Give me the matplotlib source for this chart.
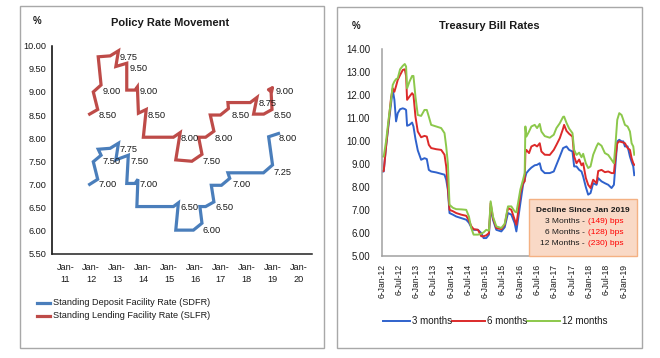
import matplotlib
matplotlib.use('Agg')
import matplotlib.pyplot as plt
from matplotlib.lines import Line2D
from matplotlib.patches import Rectangle

plt.rcParams['font.family'] = ['Liberation Sans', 'DejaVu Sans']

# ---------------- data: policy rates ----------------
policy_ticks = [2011, 2012, 2013, 2014, 2015, 2016, 2017, 2018, 2019, 2020]
policy_tick_labels = ['Jan-\n11', 'Jan-\n12', 'Jan-\n13', 'Jan-\n14', 'Jan-\n15',
                      'Jan-\n16', 'Jan-\n17', 'Jan-\n18', 'Jan-\n19', 'Jan-\n20']
policy_names = ['Standing Deposit Facility Rate (SDFR)',
                'Standing Lending Facility Rate (SLFR)']

sdfr_x = [2011.94, 2012.25, 2012.08, 2012.38, 2012.27, 2012.73, 2013.05, 2012.95,
          2013.43, 2013.37, 2013.69, 2013.80, 2013.76, 2015.17, 2015.36, 2015.26,
          2015.94, 2016.27, 2016.19, 2016.41, 2016.73, 2016.63, 2017.02, 2017.34,
          2017.27, 2018.64, 2018.99, 2018.84, 2019.22]
sdfr_y = [7.00, 7.11, 7.49, 7.63, 7.76, 7.78, 7.89, 7.53,
          7.63, 7.02, 7.02, 7.11, 6.52, 6.52, 6.60, 6.01,
          6.01, 6.16, 6.52, 6.52, 6.62, 6.98, 6.98, 7.13,
          7.25, 7.25, 7.42, 8.03, 8.10]

slfr_x = [2011.94, 2012.25, 2012.08, 2012.38, 2012.27, 2012.73, 2013.05, 2012.95,
          2013.37, 2013.37, 2013.69, 2013.78, 2013.82, 2014.12, 2014.01, 2015.17,
          2015.43, 2015.26, 2015.88, 2016.27, 2016.14, 2016.41, 2016.73, 2016.59,
          2016.98, 2017.29, 2017.27, 2018.13, 2018.39, 2018.26, 2018.65, 2018.97,
          2018.93, 2019.07]
slfr_y = [8.52, 8.62, 9.00, 9.15, 9.76, 9.78, 9.89, 9.55,
          9.62, 9.04, 9.04, 9.11, 8.54, 8.62, 8.02, 8.02,
          8.12, 7.53, 7.50, 7.65, 8.02, 8.02, 8.15, 8.50,
          8.50, 8.64, 8.77, 8.77, 8.88, 8.52, 8.52, 8.62,
          9.05, 9.15]

sdfr_label_x = [2012.30, 2012.43, 2013.11, 2013.50, 2013.88, 2015.43, 2016.29,
                2016.79, 2017.45, 2019.03, 2019.22]
sdfr_label_v = [7.00, 7.50, 7.75, 7.50, 7.00, 6.50, 6.00, 6.50, 7.00, 7.25, 8.00]
slfr_label_x = [2012.27, 2012.44, 2013.11, 2013.50, 2013.88, 2014.18, 2015.43,
                2016.29, 2016.74, 2017.42, 2018.45, 2019.03, 2019.10]
slfr_label_v = [8.50, 9.00, 9.75, 9.50, 9.00, 8.50, 8.00, 7.50, 8.00, 8.50,
                8.75, 8.50, 9.00]

# ---------------- data: treasury bills ----------------
tb_x = [2012.014, 2012.072, 2012.140, 2012.217, 2012.285, 2012.333, 2012.381, 2012.429,
        2012.478, 2012.545, 2012.623, 2012.681, 2012.719, 2012.748, 2012.816, 2012.893,
        2012.932, 2012.990, 2013.057, 2013.154, 2013.251, 2013.318, 2013.376, 2013.444,
        2013.589, 2013.734, 2013.830, 2013.879, 2013.927, 2013.975, 2014.072, 2014.169,
        2014.314, 2014.458, 2014.536, 2014.603, 2014.671, 2014.797, 2014.893, 2014.961,
        2015.038, 2015.115, 2015.164, 2015.231, 2015.328, 2015.473, 2015.570, 2015.666,
        2015.763, 2015.859, 2015.908, 2015.956, 2016.024, 2016.101, 2016.149, 2016.169,
        2016.198, 2016.275, 2016.343, 2016.439, 2016.507, 2016.584, 2016.632, 2016.729,
        2016.874, 2016.990, 2017.067, 2017.164, 2017.260, 2017.289, 2017.357, 2017.434,
        2017.531, 2017.579, 2017.647, 2017.724, 2017.792, 2017.840, 2017.917, 2017.985,
        2018.053, 2018.130, 2018.227, 2018.275, 2018.371, 2018.468, 2018.565, 2018.661,
        2018.729, 2018.777, 2018.826, 2018.884, 2018.951, 2019.000, 2019.048, 2019.125,
        2019.193, 2019.241, 2019.289, 2019.318]
tb_3m = [8.68, 8.68, 9.77, 10.78, 11.65, 12.23, 11.80, 10.86,
         11.22, 11.39, 11.43, 11.40, 11.36, 10.67, 10.71, 10.81,
         10.64, 10.10, 9.60, 9.19, 9.26, 9.22, 8.75, 8.68,
         8.64, 8.58, 8.54, 8.32, 7.88, 6.87, 6.80, 6.72,
         6.65, 6.58, 6.45, 6.25, 6.14, 6.14, 6.00, 5.78,
         5.78, 5.93, 7.10, 6.58, 6.14, 6.07, 6.25, 6.87,
         6.80, 6.43, 6.07, 6.58, 7.30, 8.10, 8.32, 8.45,
         8.61, 8.75, 8.85, 8.95, 8.97, 9.04, 8.75, 8.61,
         8.61, 8.68, 8.97, 9.33, 9.70, 9.72, 9.77, 9.62,
         9.55, 8.90, 8.90, 8.75, 8.68, 8.46, 8.00, 7.67,
         7.74, 8.17, 8.10, 8.39, 8.25, 8.17, 8.10, 7.96,
         8.10, 9.04, 9.99, 10.06, 9.99, 9.99, 9.77, 9.77,
         9.33, 9.10, 8.90, 8.52]
tb_6m = [8.68, 8.70, 9.77, 10.90, 11.90, 12.30, 12.15, 12.40,
         12.67, 12.88, 13.10, 13.13, 12.84, 11.80, 11.94, 12.09,
         12.01, 11.07, 10.42, 10.17, 10.23, 10.20, 9.84, 9.70,
         9.65, 9.62, 9.41, 8.90, 8.00, 7.01, 6.95, 6.87,
         6.80, 6.75, 6.55, 6.30, 6.17, 6.14, 5.86, 5.86,
         5.90, 6.00, 7.30, 6.65, 6.22, 6.17, 6.36, 7.09,
         7.01, 6.58, 6.36, 6.87, 7.74, 8.17, 8.25, 9.48,
         9.62, 9.48, 9.77, 9.84, 9.77, 9.91, 9.55, 9.41,
         9.40, 9.62, 9.84, 10.13, 10.55, 10.71, 10.45, 10.32,
         10.20, 9.33, 9.04, 9.20, 8.95, 9.04, 8.40, 8.10,
         7.96, 8.32, 8.17, 8.70, 8.75, 8.65, 8.68, 8.61,
         8.61, 9.33, 9.91, 9.99, 9.96, 9.94, 9.91, 9.70,
         9.62, 9.26, 9.04, 8.97]
tb_12m = [9.33, 9.33, 10.00, 11.00, 11.80, 12.45, 12.60, 12.70,
          12.74, 13.13, 13.28, 13.36, 13.25, 12.30, 12.59, 12.84,
          12.84, 11.94, 11.14, 11.10, 11.36, 11.36, 11.07, 10.71,
          10.64, 10.57, 10.35, 9.77, 9.04, 7.23, 7.10, 7.04,
          7.03, 7.01, 6.72, 6.22, 5.93, 5.93, 5.97, 6.03,
          6.14, 6.10, 7.38, 6.72, 6.29, 6.22, 6.40, 7.16,
          7.16, 6.94, 6.90, 7.30, 7.90, 8.32, 8.61, 10.64,
          10.20, 10.42, 10.64, 10.71, 10.57, 10.75, 10.42, 10.22,
          10.15, 10.28, 10.57, 10.78, 11.06, 11.07, 10.80, 10.55,
          10.35, 9.62, 9.40, 9.50, 9.30, 9.45, 9.04, 8.83,
          8.90, 9.41, 9.77, 9.91, 9.80, 9.48, 9.40, 9.19,
          9.04, 9.91, 10.93, 11.22, 11.14, 10.93, 10.71, 10.64,
          10.42, 9.91, 9.77, 9.41]
tb_names = ['3 months', '6 months', '12 months']
tb_tick_years = [2012, 2012.5, 2013, 2013.5, 2014, 2014.5, 2015, 2015.5,
                 2016, 2016.5, 2017, 2017.5, 2018, 2018.5, 2019]
tb_tick_labels = ['6-Jan-12', '6-Jul-12', '6-Jan-13', '6-Jul-13', '6-Jan-14',
                  '6-Jul-14', '6-Jan-15', '6-Jul-15', '6-Jan-16', '6-Jul-16',
                  '6-Jan-17', '6-Jul-17', '6-Jan-18', '6-Jul-18', '6-Jan-19']
box_title = 'Decline Since Jan 2019'
box_tenors = ['3 Months - ', '6 Months - ', '12 Months - ']
box_values = ['(149) bps', '(128) bps', '(230) bps']

# ---------------- layout helpers ----------------
W, H = 660, 358
fig = plt.figure(figsize=(6.6, 3.58), dpi=100)


def fx(px):
    return px / W


def fy(py):
    return 1 - py / H


TXT = '#1a1a1a'
BLUE_P, RED_P = '#4A7EBB', '#BE4B48'
BLUE_T, RED_T, GREEN_T = '#2F62CC', '#DC2A2A', '#8CC84B'

# panel borders
for (x0, y0, x1, y1) in [(20, 6, 324, 348.3), (337.3, 7.3, 641.7, 348.3)]:
    fig.add_artist(Rectangle((fx(x0), fy(y1)), fx(x1) - fx(x0), fy(y0) - fy(y1),
                             fill=False, edgecolor='#A8A8A8', lw=1.0,
                             transform=fig.transFigure, zorder=0))

# ---------------- left panel ----------------
ax1 = fig.add_axes([fx(52.3), fy(253.7), fx(311.7) - fx(52.3), fy(45.7) - fy(253.7)])
ax1.set_xlim(2010.5, 2020.5)
ax1.set_ylim(5.5, 10.0)
ax1.set_yticks([5.5 + 0.5 * i for i in range(10)])
ax1.yaxis.set_major_formatter(matplotlib.ticker.FormatStrFormatter('%.2f'))
ax1.set_xticks(policy_ticks)
ax1.set_xticklabels(policy_tick_labels, linespacing=1.35)
ax1.tick_params(axis='both', length=0, labelsize=6.6, colors=TXT)
ax1.tick_params(axis='y', pad=4.5)
ax1.tick_params(axis='x', pad=7)
for s in ['top', 'right']:
    ax1.spines[s].set_visible(False)
ax1.spines['left'].set_color('#000000')
ax1.spines['left'].set_linewidth(1.1)
ax1.spines['bottom'].set_color('#202020')
ax1.spines['bottom'].set_linewidth(1.1)
ax1.patch.set_alpha(0)

ax1.plot(sdfr_x, sdfr_y, color=BLUE_P, lw=2.3, solid_joinstyle='miter')
ax1.plot(slfr_x[:-1], slfr_y[:-1], color=RED_P, lw=2.3, solid_joinstyle='miter')
ax1.annotate('', xy=(slfr_x[-1], slfr_y[-1]), xytext=(slfr_x[-2], slfr_y[-2]),
             arrowprops=dict(arrowstyle='-|>', color=RED_P, lw=2.3,
                             mutation_scale=7, shrinkA=0, shrinkB=0))
for x, v in zip(sdfr_label_x, sdfr_label_v):
    ax1.text(x, v, f'{v:.2f}', fontsize=6.7, ha='left', va='center', color=TXT)
for x, v in zip(slfr_label_x, slfr_label_v):
    ax1.text(x, v, f'{v:.2f}', fontsize=6.7, ha='left', va='center', color=TXT)

fig.text(fx(170.5), fy(23.3), 'Policy Rate Movement', fontsize=8, fontweight='bold',
         ha='center', va='center', color=TXT)
fig.text(fx(37.5), fy(20.7), '%', fontsize=7, fontweight='bold', ha='center',
         va='center', color=TXT)

for i, (name, col) in enumerate(zip(policy_names, [BLUE_P, RED_P])):
    yy = 302.7 + 13 * i
    fig.add_artist(Line2D([fx(36.7), fx(50)], [fy(yy), fy(yy)], color=col, lw=2.3,
                          transform=fig.transFigure))
    fig.text(fx(52.7), fy(yy), name, fontsize=6.6, ha='left', va='center', color=TXT)

# ---------------- right panel ----------------
ax2 = fig.add_axes([fx(381.7), fy(256), fx(635) - fx(381.7), fy(49.3) - fy(256)])
ax2.set_xlim(2012.014, 2019.339)
ax2.set_ylim(5, 14)
ax2.set_yticks(range(5, 15))
ax2.yaxis.set_major_formatter(matplotlib.ticker.FormatStrFormatter('%.2f'))
tick_pos = [int(t) + (5 / 365 if t == int(t) else 186 / 365) for t in tb_tick_years]
ax2.set_xticks(tick_pos)
ax2.set_xticklabels(tb_tick_labels, rotation=90)
ax2.tick_params(axis='both', length=0, colors=TXT)
ax2.tick_params(axis='y', labelsize=6.9, pad=8.4)
ax2.tick_params(axis='x', labelsize=6.2, pad=5.5)
for s in ['top', 'right']:
    ax2.spines[s].set_visible(False)
for s in ['left', 'bottom']:
    ax2.spines[s].set_color('#A0A0A0')
    ax2.spines[s].set_linewidth(1.1)
ax2.patch.set_alpha(0)

for vals, col in zip([tb_3m, tb_6m, tb_12m], [BLUE_T, RED_T, GREEN_T]):
    ax2.plot(tb_x, vals, color=col, lw=1.4)

fig.text(fx(489), fy(26), 'Treasury Bill Rates', fontsize=8, fontweight='bold',
         ha='center', va='center', color=TXT)
fig.text(fx(356), fy(26), '%', fontsize=7, fontweight='bold', ha='center',
         va='center', color=TXT)

leg_pos = [(383.3, 410, 411.5), (451.7, 485, 487), (527, 560, 561.5)]
for name, col, (l0, l1, tx) in zip(tb_names, [BLUE_T, RED_T, GREEN_T], leg_pos):
    fig.add_artist(Line2D([fx(l0), fx(l1)], [fy(321), fy(321)], color=col, lw=1.4,
                          transform=fig.transFigure))
    fig.text(fx(tx), fy(321), name, fontsize=7, ha='left', va='center', color=TXT)

# annotation box
fig.add_artist(Rectangle((fx(529.3), fy(256)), fx(636.7) - fx(529.3), fy(199.3) - fy(256),
                         facecolor='#F9D9C6', edgecolor='#F4B183', lw=1.0,
                         transform=fig.transFigure, zorder=3))
fig.text(fx(582.5), fy(210.7), box_title, fontsize=6, fontweight='bold', ha='center',
         va='center', color=TXT, zorder=4)
for i, (ten, val) in enumerate(zip(box_tenors, box_values)):
    yy = 221.7 + 10.8 * i
    fig.text(fx(587.5), fy(yy), ten, fontsize=6, ha='right', va='center', color=TXT, zorder=4)
    fig.text(fx(588.3), fy(yy), val, fontsize=6, ha='left', va='center', color='#FF0000', zorder=4)

fig.savefig('out.png', dpi=100)
